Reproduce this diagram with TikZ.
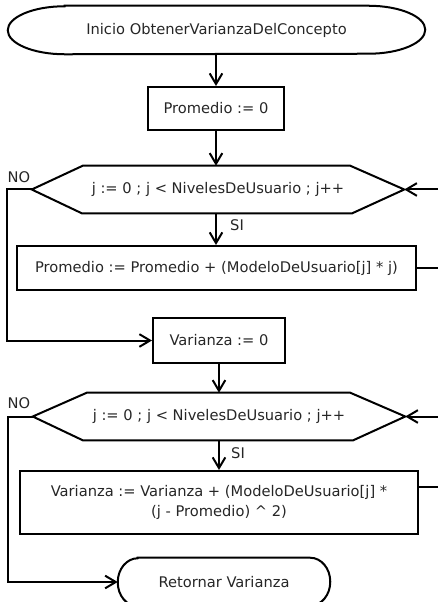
\documentclass[tikz,border=0pt]{standalone}
\usepackage{fontspec}
\setmainfont{DejaVu Sans}
\usetikzlibrary{arrows.meta,calc}
\begin{document}
\begin{tikzpicture}[x=0.75pt,y=-0.75pt,
  every node/.style={font=\fontsize{11}{15}\selectfont, text=black!85},
  line/.style={line width=1.5pt},
  arr/.style={line, -{Straight Barb[length=8pt,width=9.5pt]}},
  box/.style={draw, line width=1.5pt, inner sep=0pt, align=center},
  ghost/.style={inner sep=0pt, align=center},
  lbl/.style={inner sep=0pt}]
\useasboundingbox (0,0) rectangle (438,602);
\clip (0,0) rectangle (438,602);

% nodes
\node[ghost, minimum width=312.75pt, minimum height=36pt] (start) at (216.5,30) {Inicio ObtenerVarianzaDelConcepto};
\node[box, minimum width=102pt, minimum height=32.25pt] (p0) at (216,108.5) {Promedio := 0};
\node[ghost, minimum width=279pt, minimum height=35.25pt] (h1) at (218,189.5) {j := 0 ; j < NivelesDeUsuario ; j++};
\node[box, minimum width=299.25pt, minimum height=33pt] (b1) at (216.5,268) {Promedio := Promedio + (ModeloDeUsuario[j] * j)};
\node[box, minimum width=99pt, minimum height=33.75pt] (v0) at (219,340.5) {Varianza := 0};
\node[ghost, minimum width=279pt, minimum height=35.25pt] (h2) at (219,416.5) {j := 0 ; j < NivelesDeUsuario ; j++};
\node[box, minimum width=298.5pt, minimum height=47.25pt] (b2) at (219,502.5) {Varianza := Varianza + (ModeloDeUsuario[j] *\\(j - Promedio) \textasciicircum{} 2)};
\node[ghost, minimum width=159pt, minimum height=36pt] (ret) at (224,582) {Retornar Varianza};

\node[lbl] (no1) at (19,177) {NO};
\node[lbl] (si1) at (237,225) {SI};
\node[lbl] (no2) at (19,403) {NO};
\node[lbl] (si2) at (238,453) {SI};

\coordinate (r1) at (446,0);
\coordinate (l1) at (7,0);
\coordinate (l2) at (8,0);
\coordinate (b2r) at ($(b2.east)+(0,-15.5)$);
\coordinate (b2x) at (446,487);

% terminal shapes
\draw[line] ($(start.north west)+(57,0)$) -- ($(start.north east)+(-57,0)$)
  arc[start angle=90,end angle=-90,x radius=42.75pt,y radius=18pt]
  -- ($(start.south west)+(57,0)$)
  arc[start angle=270,end angle=90,x radius=42.75pt,y radius=18pt] -- cycle;
\draw[line] ($(ret.north west)+(20,0)$) -- ($(ret.north east)+(-20,0)$)
  arc[start angle=90,end angle=-90,x radius=15pt,y radius=18pt]
  -- ($(ret.south west)+(20,0)$)
  arc[start angle=270,end angle=90,x radius=15pt,y radius=18pt] -- cycle;

% hexagons
\draw[line] (h1.west) -- ($(h1.north west)+(51,0)$) -- ($(h1.north east)+(-54,0)$)
  -- (h1.east) -- ($(h1.south east)+(-52,0)$) -- ($(h1.south west)+(50,0)$) -- cycle;
\draw[line] (h2.west) -- ($(h2.north west)+(54,0)$) -- ($(h2.north east)+(-55,0)$)
  -- (h2.east) -- ($(h2.south east)+(-52,0)$) -- ($(h2.south west)+(50,0)$) -- cycle;

% connectors
\draw[arr] (p0.north |- start.south) -- (p0.north);
\draw[arr] (p0.south) -- (p0.south |- h1.north);
\draw[arr] (p0.south |- h1.south) -- (p0.south |- b1.north);
\draw[arr] (b1.east) -- (b1.east -| r1) |- (h1.east);
\draw[arr] (h1.west) -- (h1.west -| l1) |- (v0.west);
\draw[arr] (v0.south) -- (v0.south |- h2.north);
\draw[arr] (v0.south |- h2.south) -- (v0.south |- b2.north);
\draw[arr] (b2r) -- (b2x) |- (h2.east);
\draw[arr] (h2.west) -- (h2.west -| l2) |- (ret.west);
\end{tikzpicture}
\end{document}
